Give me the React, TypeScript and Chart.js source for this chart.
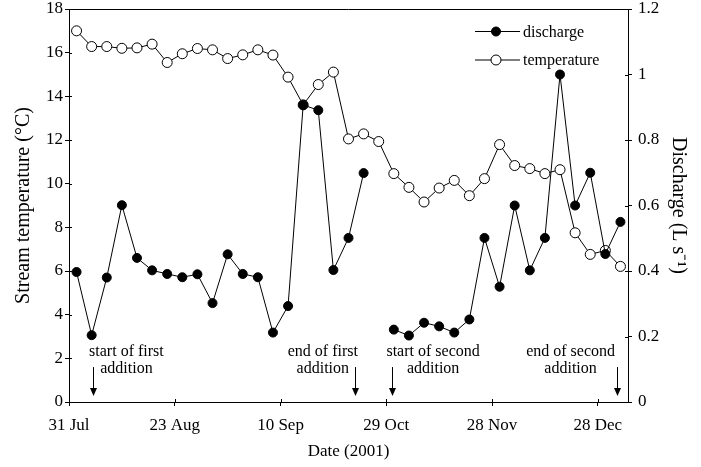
import React, { useEffect, useRef } from "react";
import { Chart, registerables } from "chart.js";

Chart.register(...registerables);

// ---- data ----
const temperature: number[] = [
  17.0, 16.28, 16.28, 16.2, 16.22, 16.39, 15.55, 15.95, 16.19, 16.13,
  15.73, 15.9, 16.13, 15.89, 14.88, 13.61, 14.54, 15.11, 12.05, 12.28,
  11.93, 10.46, 9.83, 9.16, 9.8, 10.15, 9.45, 10.23, 11.79, 10.83,
  10.69, 10.46, 10.64, 7.75, 6.76, 6.94, 6.21,
];
const discharge: (number | null)[] = [
  0.397, 0.204, 0.38, 0.601, 0.44, 0.402, 0.391, 0.381, 0.39, 0.302,
  0.451, 0.391, 0.381, 0.212, 0.293, 0.907, 0.891, 0.403, 0.501, 0.699,
  null, 0.221, 0.203, 0.242, 0.231, 0.212, 0.252, 0.501, 0.352, 0.6,
  0.402, 0.501, 1.0, 0.6, 0.7, 0.452, 0.55,
];
const xTickLabels: string[] = ["31 Jul", "23 Aug", "10 Sep", "29 Oct", "28 Nov", "28 Dec"];
const xTickPositions: number[] = [-0.5, 6.5, 13.5, 20.5, 27.5, 34.5];

const annotationText: string[][] = [
  ["start of first", "addition"],
  ["end of first", "addition"],
  ["start of second", "addition"],
  ["end of second", "addition"],
];
const annotationTextX: number[] = [3.3, 16.3, 23.6, 32.7];
const annotationArrowX: number[] = [1.1, 18.4, 20.9, 35.8];

const FONT = '"Liberation Serif", "Times New Roman", serif';

const overlayPlugin = {
  id: "overlay",
  afterDraw(chart: any) {
    const { ctx, chartArea, scales } = chart;
    const xs = scales.x;
    const ys = scales.y;
    const y1 = scales.y1;
    ctx.save();
    ctx.strokeStyle = "#000";
    ctx.fillStyle = "#000";
    ctx.lineWidth = 1;
    // top border
    ctx.beginPath();
    ctx.moveTo(chartArea.left, Math.round(chartArea.top) + 0.5);
    ctx.lineTo(chartArea.right, Math.round(chartArea.top) + 0.5);
    ctx.stroke();
    // inward tick halves
    ctx.beginPath();
    xs.ticks.forEach((t: any) => {
      const px = Math.round(xs.getPixelForValue(t.value)) + 0.5;
      ctx.moveTo(px, chartArea.bottom);
      ctx.lineTo(px, chartArea.bottom - 3);
    });
    ys.ticks.forEach((t: any) => {
      const py = Math.round(ys.getPixelForValue(t.value)) + 0.5;
      ctx.moveTo(chartArea.left, py);
      ctx.lineTo(chartArea.left + 3, py);
    });
    y1.ticks.forEach((t: any) => {
      const py = Math.round(y1.getPixelForValue(t.value)) + 0.5;
      ctx.moveTo(chartArea.right, py);
      ctx.lineTo(chartArea.right - 3, py);
    });
    ctx.stroke();

    // annotations
    ctx.font = `16px ${FONT}`;
    ctx.textAlign = "center";
    ctx.textBaseline = "alphabetic";
    const line1Y = ys.getPixelForValue(2.1);
    annotationText.forEach((lines, i) => {
      const tx = xs.getPixelForValue(annotationTextX[i]);
      lines.forEach((s, j) => ctx.fillText(s, tx, line1Y + j * 17));
      const ax = Math.round(xs.getPixelForValue(annotationArrowX[i])) + 0.5;
      const top = ys.getPixelForValue(1.6);
      const tip = ys.getPixelForValue(0.27);
      ctx.beginPath();
      ctx.moveTo(ax, top);
      ctx.lineTo(ax, tip - 6);
      ctx.stroke();
      ctx.beginPath();
      ctx.moveTo(ax - 3.5, tip - 8);
      ctx.lineTo(ax + 3.5, tip - 8);
      ctx.lineTo(ax, tip);
      ctx.closePath();
      ctx.fill();
    });

    // legend
    const items = chart.data.datasets;
    const lx0 = chartArea.right - 153;
    const lx1 = chartArea.right - 108;
    const mx = chartArea.right - 132;
    const tx = chartArea.right - 105;
    ctx.textAlign = "left";
    ctx.textBaseline = "middle";
    items.forEach((ds: any, i: number) => {
      const ly = chartArea.top + 22.5 + i * 28.5;
      ctx.beginPath();
      ctx.moveTo(lx0, ly);
      ctx.lineTo(lx1, ly);
      ctx.stroke();
      ctx.beginPath();
      ctx.arc(mx, ly, ds.pointRadius, 0, Math.PI * 2);
      ctx.fillStyle = ds.pointBackgroundColor;
      ctx.fill();
      ctx.stroke();
      ctx.fillStyle = "#000";
      ctx.fillText(ds.label, tx, ly + 1);
    });
    ctx.restore();
  },
};

export default function App() {
  const ref = useRef<HTMLCanvasElement | null>(null);
  useEffect(() => {
    if (!ref.current) return;
    Chart.defaults.font.family = FONT;
    const tickFont = { family: FONT, size: 17 };
    const titleFont = { family: FONT, size: 20 };
    const noPad = (s: any) => {
      s.paddingTop = 0;
      s.paddingBottom = 0;
      s.paddingLeft = 0;
      s.paddingRight = 0;
    };
    const chart = new Chart(ref.current, {
      type: "line",
      data: {
        datasets: [
          {
            label: "discharge",
            data: discharge.map((v, i) => ({ x: i, y: v })),
            yAxisID: "y1",
            borderColor: "#000",
            borderWidth: 1,
            pointRadius: 4.5,
            pointBackgroundColor: "#000",
            pointBorderColor: "#000",
            pointBorderWidth: 1,
            spanGaps: false,
          } as any,
          {
            label: "temperature",
            data: temperature.map((v, i) => ({ x: i, y: v })),
            yAxisID: "y",
            borderColor: "#000",
            borderWidth: 1,
            pointRadius: 5,
            pointBackgroundColor: "#fff",
            pointBorderColor: "#000",
            pointBorderWidth: 1,
          } as any,
        ],
      },
      options: {
        responsive: false,
        animation: false,
        layout: { padding: { top: 9, left: 0, right: 0, bottom: 0 } },
        plugins: { legend: { display: false }, tooltip: { enabled: false } },
        scales: {
          x: {
            type: "linear",
            min: -0.5,
            max: 36.5,
            afterBuildTicks: (s: any) => {
              s.ticks = xTickPositions.map((v) => ({ value: v }));
            },
            afterFit: (s: any) => {
              s.height = 65;
              noPad(s);
            },
            ticks: {
              autoSkip: false,
              maxRotation: 0,
              padding: 9,
              color: "#000",
              font: tickFont,
              callback: (_v: any, i: number) => xTickLabels[i],
            },
            grid: { drawOnChartArea: false, drawTicks: true, tickLength: 4, color: "#000" },
            border: { color: "#000", width: 1 },
            title: { display: true, text: "Date (2001)", color: "#000", font: tickFont, padding: { top: 0, bottom: 5 } },
          },
          y: {
            type: "linear",
            position: "left",
            min: 0,
            max: 18,
            afterFit: (s: any) => {
              s.width = 69;
              noPad(s);
            },
            ticks: { stepSize: 2, padding: 2, color: "#000", font: tickFont },
            grid: { drawOnChartArea: false, drawTicks: true, tickLength: 4, color: "#000" },
            border: { color: "#000", width: 1 },
            title: { display: true, text: "Stream temperature (°C)", color: "#000", font: titleFont, padding: { top: 12, bottom: 0 } },
          },
          y1: {
            type: "linear",
            position: "right",
            min: 0,
            max: 1.2,
            afterFit: (s: any) => {
              s.width = 73;
              noPad(s);
            },
            ticks: {
              stepSize: 0.2,
              padding: 6,
              color: "#000",
              font: tickFont,
              callback: (v: any) => String(Number(Number(v).toFixed(1))),
            },
            grid: { drawOnChartArea: false, drawTicks: true, tickLength: 4, color: "#000" },
            border: { color: "#000", width: 1 },
            title: { display: true, text: "Discharge (L s\u207B\u00B9)", color: "#000", font: titleFont, padding: { top: 11, bottom: 0 } },
          },
        },
      } as any,
      plugins: [overlayPlugin],
    });
    return () => chart.destroy();
  }, []);
  return (
    <div style={{ position: "fixed", left: 0, top: 0, width: 701, height: 467, background: "#fff" }}>
      <canvas ref={ref} width={701} height={467} />
    </div>
  );
}
